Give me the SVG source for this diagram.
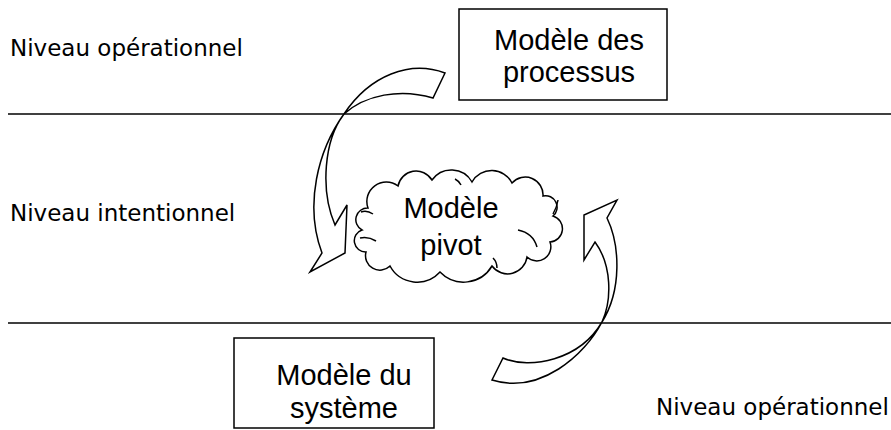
<svg xmlns="http://www.w3.org/2000/svg" width="891" height="430" viewBox="0 0 891 430">
<style>
.lvl{font-family:"DejaVu Sans","Comic Sans MS",sans-serif;font-size:23px;fill:#000}
.nt{font-family:"Liberation Sans",Arial,sans-serif;font-size:29px;fill:#000;text-anchor:middle}
.box{fill:#fff;stroke:#000;stroke-width:1.5}
.sep{stroke:#000;stroke-width:1.5;fill:none}
.arr{fill:#fff;stroke:#000;stroke-width:1.5;stroke-linejoin:miter}
.cl{fill:#fff;stroke:#000;stroke-width:1.5}
.cli{fill:none;stroke:#000;stroke-width:1.5}
</style>
<rect width="891" height="430" fill="#fff"/>
<g id="separators">
<line class="sep" x1="8" y1="114" x2="891" y2="114"/>
<line class="sep" x1="8" y1="323" x2="891" y2="323"/>
</g>
<g id="labels">
<text class="lvl" x="10" y="56">Niveau opérationnel</text>
<text class="lvl" x="10" y="221">Niveau intentionnel</text>
<text class="lvl" x="656" y="415">Niveau opérationnel</text>
</g>
<g id="connectors">
<path class="arr" d="M445,73 C410,60 370,75 344,114 C318,150 304,205 322,253 L310,272 L345,253 L347,205 L335,225 C320,190 324,140 344,114 C365,95 400,88 433,98 Z"/>
<path class="arr" d="M503,358 C530,370 580,360 602,322 C612,300 612,265 595,242 L584,260 L584,215 L617,200 L607,218 C620,245 622,290 602,322 C585,355 540,395 492,380 Z"/>
</g>
<g id="node-processus">
<rect class="box" x="459" y="9" width="208" height="91"/>
<text class="nt" x="569" y="50">Modèle des</text>
<text class="nt" x="569" y="82">processus</text>
</g>
<g id="node-pivot">
<path class="cl" d="M368,208 A19.4,19.4 0 0 1 398,186 A18.5,18.5 0 0 1 432,180 A23.7,23.7 0 0 1 472,182 A22.7,22.7 0 0 1 512,183 A17.8,17.8 0 0 1 543,196 A11.5,11.5 0 0 1 553,216 A13.3,13.3 0 0 1 550,242 A14.1,14.1 0 0 1 527,257 A19.5,19.5 0 0 1 492,266 A32.9,32.9 0 0 1 440,272 A30.9,30.9 0 0 1 390,266 A14.4,14.4 0 0 1 366,252 A11.3,11.3 0 0 1 362,230 A11.7,11.7 0 0 1 368,208 Z"/>
<path class="cli" d="M361,212 Q367,210 373,214 M360,238 Q368,236 376,241 M518,230 Q533,233 537,247 M553,214 Q557,207 558,200 M493,258 Q497,262 497,268 M455,179 Q459,181 461,185"/>
<text class="nt" x="451" y="218">Modèle</text>
<text class="nt" x="451" y="255">pivot</text>
</g>
<g id="node-systeme">
<rect class="box" x="234" y="338" width="200" height="90"/>
<text class="nt" x="344" y="385">Modèle du</text>
<text class="nt" x="344" y="418">système</text>
</g>
</svg>
